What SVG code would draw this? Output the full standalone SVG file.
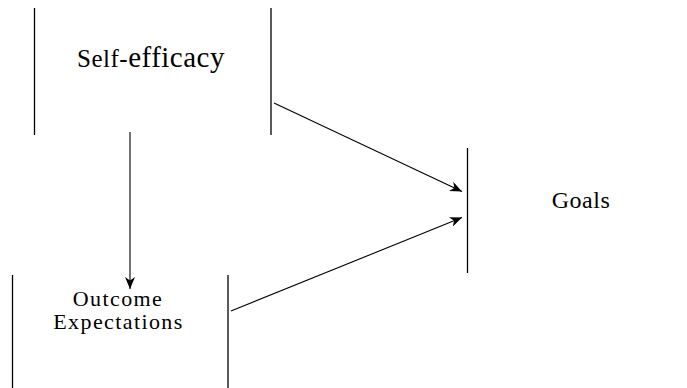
<svg xmlns="http://www.w3.org/2000/svg" width="687" height="388" viewBox="0 0 687 388">
<style>
.side{stroke:#000;stroke-width:1.3;fill:none}
.lbl{font-family:"Liberation Serif","Times New Roman",serif;font-size:24px;letter-spacing:0.5px;fill:#000;text-anchor:middle}
.two{font-size:22px;letter-spacing:1.4px}
.conn{stroke:#000;stroke-width:1.1;fill:none;marker-end:url(#ah)}
</style>
<defs>
<marker id="ah" markerUnits="userSpaceOnUse" markerWidth="12" markerHeight="10" viewBox="0 0 12 10" refX="12" refY="5" orient="auto">
<path d="M0,0 L12,5 L0,10 L3.5,5 z" fill="#000"/>
</marker>
</defs>
<rect width="687" height="388" fill="#fff"/>
<g id="self-efficacy">
<line class="side" x1="34.5" y1="8" x2="34.5" y2="135"/>
<line class="side" x1="271" y1="8" x2="271" y2="135"/>
<text class="lbl" x="151" y="67"><tspan font-size="25">Self-</tspan><tspan font-size="29">efficacy</tspan></text>
</g>
<g id="outcome-expectations">
<line class="side" x1="12.5" y1="275" x2="12.5" y2="388"/>
<line class="side" x1="228" y1="275" x2="228" y2="388"/>
<text class="lbl two" x="118" y="306">Outcome</text>
<text class="lbl two" x="118.5" y="329" letter-spacing="1.7">Expectations</text>
</g>
<g id="goals">
<line class="side" x1="467.5" y1="148" x2="467.5" y2="273"/>
<text class="lbl" x="581" y="208">Goals</text>
</g>
<g id="connectors">
<line class="conn" x1="130" y1="132" x2="130" y2="289"/>
<line class="conn" x1="274" y1="103" x2="462" y2="191.5"/>
<line class="conn" x1="231" y1="311" x2="462" y2="217.5"/>
</g>
</svg>
